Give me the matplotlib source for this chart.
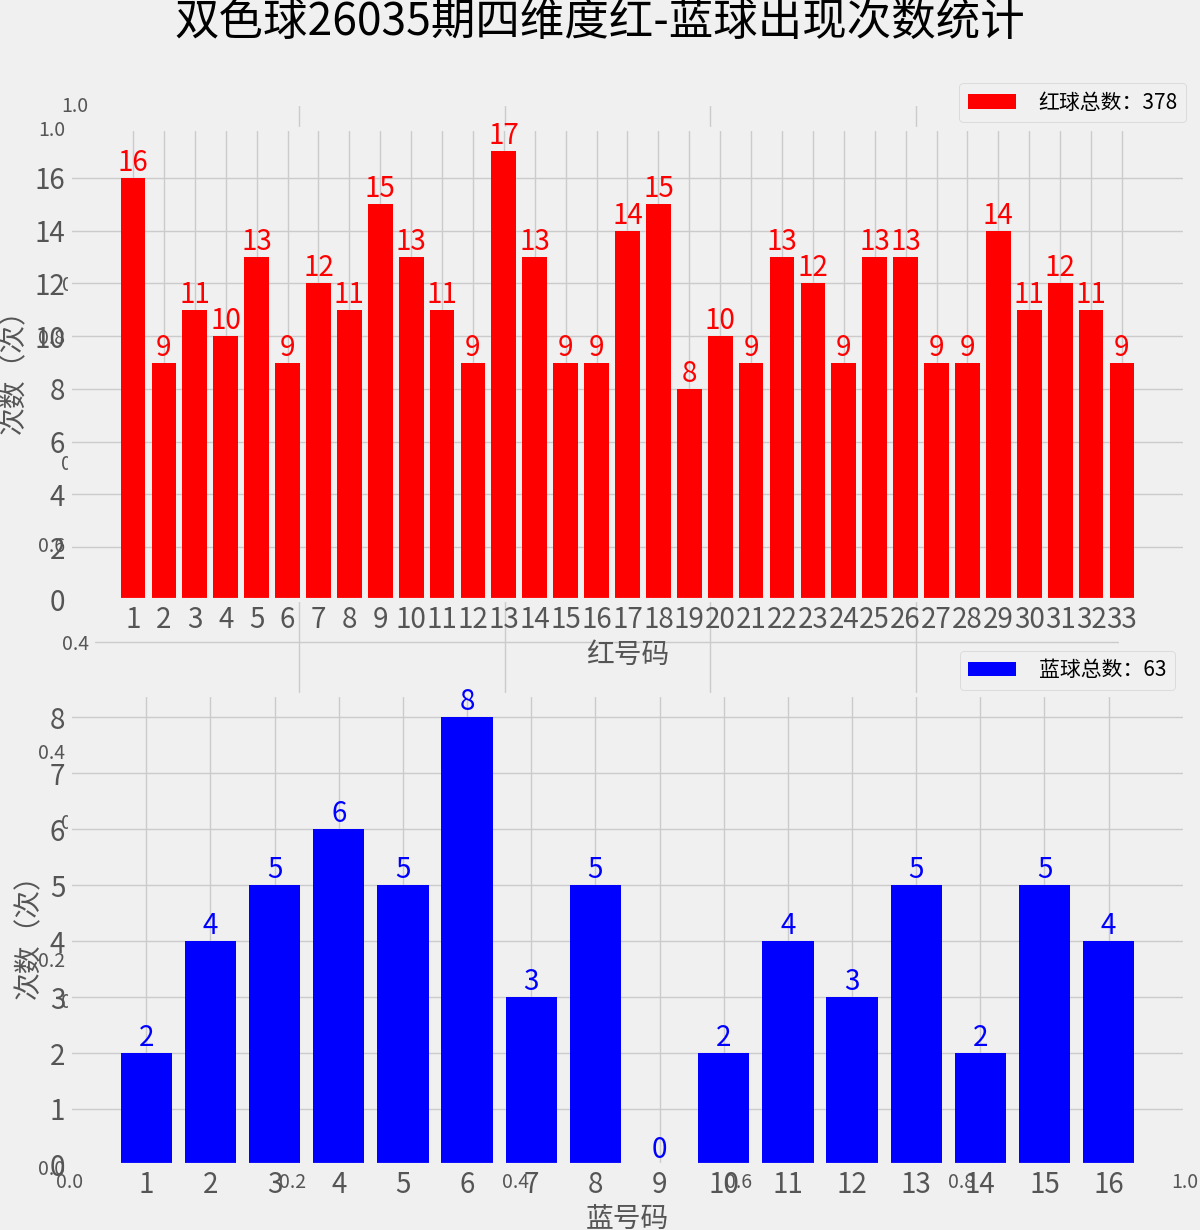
import matplotlib
matplotlib.use("Agg")
import matplotlib.pyplot as plt

plt.style.use("fivethirtyeight")
plt.rcParams["font.family"] = ["Noto Sans CJK SC", "DejaVu Sans"]
plt.rcParams["axes.unicode_minus"] = False

# data
red_numbers = list(range(1, 34))
red_counts = [16, 9, 11, 10, 13, 9, 12, 11, 15, 13, 11, 9, 17, 13, 9, 9, 14,
              15, 8, 10, 9, 13, 12, 9, 13, 13, 9, 9, 14, 11, 12, 11, 9]
blue_numbers = list(range(1, 17))
blue_counts = [2, 4, 5, 6, 5, 8, 3, 5, 0, 2, 4, 3, 5, 2, 5, 4]
red_yticks = list(range(0, 17, 2))
blue_yticks = list(range(0, 9))

title = "双色球26035期四维度红-蓝球出现次数统计"
tick_grey = "#555555"

fig = plt.figure(figsize=(12, 12.3), dpi=100)

# two empty leftover axes that show through behind the real charts
bg_a = fig.add_axes([0.0583, 0.0512, 0.9292, 0.8447])
bg_b = fig.add_axes([0.0779, 0.1870, 0.8563, 0.7285])
for bg in (bg_a, bg_b):
    bg.tick_params(labelsize=14, colors=tick_grey)

# red balls
ax1 = fig.add_axes([0.0583, 0.5122, 0.9292, 0.3829])
ax1.bar(red_numbers, red_counts, color="red",
        label=f"红球总数：{sum(red_counts)}")
for x, v in zip(red_numbers, red_counts):
    ax1.text(x, v, str(v), ha="center", va="bottom", color="red", fontsize=20)
ax1.set_xticks(red_numbers)
ax1.set_yticks(red_yticks)
ax1.set_ylim(0, max(red_counts) * 1.05)
ax1.set_xlabel("红号码", fontsize=20, color=tick_grey)
ax1.set_ylabel("次数（次）", fontsize=20, color=tick_grey)
ax1.tick_params(labelsize=20, colors=tick_grey)
ax1.legend(loc="lower right", bbox_to_anchor=(1.001, 1.015),
           borderaxespad=0, fontsize=15, handlelength=2.3, handletextpad=1.1)

# blue balls
ax2 = fig.add_axes([0.0583, 0.0529, 0.9292, 0.3821])
ax2.bar(blue_numbers, blue_counts, color="blue",
        label=f"蓝球总数：{sum(blue_counts)}")
for x, v in zip(blue_numbers, blue_counts):
    ax2.text(x, v, str(v), ha="center", va="bottom", color="blue", fontsize=20)
ax2.set_xticks(blue_numbers)
ax2.set_yticks(blue_yticks)
ax2.set_ylim(0, max(blue_counts) * 1.05)
ax2.set_xlabel("蓝号码", fontsize=20, color=tick_grey)
ax2.set_ylabel("次数（次）", fontsize=20, color=tick_grey)
ax2.tick_params(labelsize=20, colors=tick_grey)
ax2.legend(loc="lower right", bbox_to_anchor=(0.991, 1.011),
           borderaxespad=0, fontsize=15, handlelength=2.3, handletextpad=1.1)

fig.suptitle(title, fontsize=32, y=0.982, va="center")

fig.savefig("out.png", dpi=100, facecolor=fig.get_facecolor())
